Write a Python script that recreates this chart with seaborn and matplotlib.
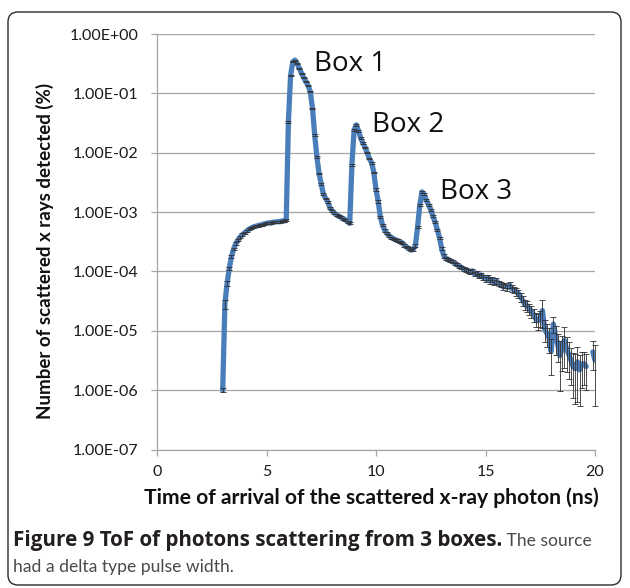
import numpy as np
import pandas as pd
import matplotlib
matplotlib.use("Agg")
import matplotlib.pyplot as plt
from matplotlib.patches import FancyBboxPatch
from matplotlib.ticker import FixedLocator, FuncFormatter, NullLocator
import seaborn as sns

# Arrival-time bins (ns)
arrival_ns = [
    3.0, 3.1, 3.2, 3.3, 3.4, 3.5, 3.6, 3.7, 3.8, 3.9,
    4.0, 4.1, 4.2, 4.3, 4.4, 4.5, 4.6, 4.7, 4.8, 4.9,
    5.0, 5.1, 5.2, 5.3, 5.4, 5.5, 5.6, 5.7, 5.8, 5.9,
    6.0, 6.1, 6.2, 6.3, 6.4, 6.5, 6.6, 6.7, 6.8, 6.9,
    7.0, 7.1, 7.2, 7.3, 7.4, 7.5, 7.6, 7.7, 7.8, 7.9,
    8.0, 8.1, 8.2, 8.3, 8.4, 8.5, 8.6, 8.7, 8.8, 8.9,
    9.0, 9.1, 9.2, 9.3, 9.4, 9.5, 9.6, 9.7, 9.8, 9.9,
    10.0, 10.1, 10.2, 10.3, 10.4, 10.5, 10.6, 10.7, 10.8, 10.9,
    11.0, 11.1, 11.2, 11.3, 11.4, 11.5, 11.6, 11.7, 11.8, 11.9,
    12.0, 12.1, 12.2, 12.3, 12.4, 12.5, 12.6, 12.7, 12.8, 12.9,
    13.0, 13.1, 13.2, 13.3, 13.4, 13.5, 13.6, 13.7, 13.8, 13.9,
    14.0, 14.1, 14.2, 14.3, 14.4, 14.5, 14.6, 14.7, 14.8, 14.9,
    15.0, 15.1, 15.2, 15.3, 15.4, 15.5, 15.6, 15.7, 15.8, 15.9,
    16.0, 16.1, 16.2, 16.3, 16.4, 16.5, 16.6, 16.7, 16.8, 16.9,
    17.0, 17.1, 17.2, 17.3, 17.4, 17.5, 17.6, 17.7, 17.8, 17.9,
    18.0, 18.1, 18.2, 18.3, 18.4, 18.5, 18.6, 18.7, 18.8, 18.9,
    19.0, 19.1, 19.2, 19.3, 19.4, 19.5, 19.6, 19.7, 19.8, 19.9,
    20.0,
]

# Scattered x rays detected (%) per bin; empty bins are nan
detected_pct = [
    1.0e-6, 2.8e-5, 6.3e-5, 1.12e-4, 1.78e-4, 2.40e-4, 2.95e-4, 3.39e-4, 3.80e-4, 4.17e-4,
    4.47e-4, 4.79e-4, 5.13e-4, 5.37e-4, 5.62e-4, 5.75e-4, 5.89e-4, 6.03e-4, 6.17e-4, 6.31e-4,
    6.46e-4, 6.61e-4, 6.50e-4, 6.76e-4, 6.80e-4, 6.92e-4, 6.85e-4, 7.08e-4, 7.10e-4, 7.24e-4,
    3.31e-2, 2.00e-1, 3.39e-1, 3.63e-1, 3.16e-1, 2.63e-1, 2.19e-1, 1.82e-1, 1.58e-1, 1.35e-1,
    1.07e-1, 5.62e-2, 2.00e-2, 8.51e-3, 4.47e-3, 2.95e-3, 2.00e-3, 1.70e-3, 1.48e-3, 1.17e-3,
    1.05e-3, 9.55e-4, 8.91e-4, 8.51e-4, 8.13e-4, 7.76e-4, 7.41e-4, 6.92e-4, 6.46e-4, 6.31e-3,
    2.40e-2, 2.95e-2, 2.34e-2, 1.78e-2, 1.45e-2, 1.23e-2, 1.00e-2, 7.94e-3, 6.76e-3, 4.68e-3,
    2.40e-3, 1.51e-3, 8.32e-4, 6.03e-4, 4.90e-4, 4.37e-4, 3.98e-4, 3.72e-4, 3.55e-4, 3.39e-4,
    3.31e-4, 3.16e-4, 3.02e-4, 2.75e-4, 2.57e-4, 2.45e-4, 2.29e-4, 2.34e-4, 2.75e-4, 5.62e-4,
    1.32e-3, 2.19e-3, 2.00e-3, 1.58e-3, 1.32e-3, 1.10e-3, 8.51e-4, 6.76e-4, 5.01e-4, 3.72e-4,
    2.40e-4, 1.82e-4, 1.66e-4, 1.58e-4, 1.51e-4, 1.45e-4, 1.38e-4, 1.29e-4, 1.23e-4, 1.17e-4,
    1.10e-4, 1.07e-4, 1.02e-4, 9.77e-5, 1.02e-4, 9.12e-5, 9.33e-5, 8.32e-5, 8.71e-5, 7.94e-5,
    7.41e-5, 7.94e-5, 6.92e-5, 7.24e-5, 6.46e-5, 6.92e-5, 6.31e-5, 6.03e-5, 5.50e-5, 5.75e-5,
    5.37e-5, 5.89e-5, 5.13e-5, 4.90e-5, 4.57e-5, 4.27e-5, 3.72e-5, 3.24e-5, 2.75e-5, 2.63e-5,
    2.34e-5, 2.14e-5, 1.86e-5, 1.58e-5, 1.48e-5, 1.66e-5, 2.19e-5, 1.07e-5, 9.1e-6, 7.6e-6,
    4.5e-6, 1.3e-5, 7.9e-6, 6.0e-6, 3.8e-6, 5.2e-6, 6.9e-6, 5.0e-6, 4.0e-6, 3.2e-6,
    2.5e-6, 2.3e-6, 3.0e-6, 2.2e-6, 2.75e-6, 2.8e-6, 2.5e-6, np.nan, np.nan, 4.4e-6,
    3.2e-6,
]

# Relative statistical uncertainty of each bin
rel_uncertainty = [
    0.08, 0.17, 0.09, 0.07, 0.05, 0.05, 0.05, 0.05, 0.05, 0.05,
    0.04, 0.04, 0.04, 0.04, 0.04, 0.04, 0.04, 0.04, 0.04, 0.04,
    0.04, 0.04, 0.04, 0.04, 0.04, 0.04, 0.04, 0.04, 0.04, 0.04,
    0.04, 0.03, 0.02, 0.02, 0.02, 0.02, 0.02, 0.02, 0.02, 0.02,
    0.02, 0.02, 0.03, 0.03, 0.03, 0.03, 0.03, 0.03, 0.03, 0.03,
    0.04, 0.04, 0.04, 0.04, 0.04, 0.04, 0.04, 0.04, 0.04, 0.04,
    0.03, 0.03, 0.03, 0.03, 0.03, 0.03, 0.03, 0.03, 0.03, 0.03,
    0.04, 0.04, 0.04, 0.04, 0.04, 0.04, 0.04, 0.04, 0.04, 0.04,
    0.05, 0.05, 0.05, 0.05, 0.05, 0.05, 0.05, 0.05, 0.05, 0.05,
    0.04, 0.04, 0.04, 0.04, 0.04, 0.04, 0.04, 0.04, 0.04, 0.04,
    0.06, 0.06, 0.06, 0.06, 0.06, 0.06, 0.06, 0.06, 0.06, 0.06,
    0.08, 0.08, 0.08, 0.08, 0.08, 0.08, 0.08, 0.08, 0.08, 0.08,
    0.10, 0.10, 0.10, 0.10, 0.10, 0.10, 0.10, 0.10, 0.10, 0.10,
    0.12, 0.12, 0.13, 0.13, 0.14, 0.15, 0.17, 0.18, 0.20, 0.20,
    0.22, 0.24, 0.25, 0.27, 0.30, 0.30, 0.50, 0.40, 0.42, 0.45,
    0.60, 0.30, 0.50, 0.50, 0.75, 0.60, 0.66, 0.60, 0.62, 0.62,
    0.70, 0.75, 0.79, 0.75, 0.60, 0.57, 0.60, np.nan, np.nan, 0.50,
    0.83,
]

box_names = ["Box 1", "Box 2", "Box 3"]
box_peak_ns = [6.3, 9.1, 12.1]

y_ticks = [1e-7, 1e-6, 1e-5, 1e-4, 1e-3, 1e-2, 1e-1, 1e0]
x_ticks = [0, 5, 10, 15, 20]

LINE_BLUE = "#4A7EBB"
GRID_GREY = "#A6A6A6"

sns.set_style("white")
plt.rcParams["font.family"] = ["Lato", "DejaVu Sans"]

df = pd.DataFrame({"t": arrival_ns, "pct": detected_pct, "rel": rel_uncertainty})
df["segment"] = df["pct"].isna().cumsum()
df = df.dropna().reset_index(drop=True)
df["err"] = df["pct"] * df["rel"]

W, H = 630, 588
fig = plt.figure(figsize=(W / 100, H / 100), dpi=100)
ax = fig.add_axes([157 / W, 1 - 449.5 / H, (595 - 157) / W, (449.5 - 34) / H])

sns.lineplot(data=df, x="t", y="pct", units="segment", estimator=None,
             color=LINE_BLUE, lw=3.8, ax=ax, zorder=2, legend=False)
eb = ax.errorbar(df["t"], df["pct"], yerr=df["err"], fmt="none", ecolor="#333333",
                 elinewidth=0.62, capsize=2.0, capthick=0.62, zorder=3)
for art in eb.lines[1] + eb.lines[2]:
    art.set_clip_on(False)

ax.set_yscale("log")
ax.set_ylim(1e-7, 1)
ax.set_xlim(0, 20)
ax.yaxis.set_major_locator(FixedLocator(y_ticks))
ax.yaxis.set_minor_locator(NullLocator())
ax.yaxis.set_major_formatter(FuncFormatter(lambda v, _: f"{v:.2E}"))
ax.xaxis.set_major_locator(FixedLocator(x_ticks))
ax.xaxis.set_major_formatter(FuncFormatter(lambda v, _: f"{v:g}"))

ax.grid(axis="y", color=GRID_GREY, lw=0.9)
ax.grid(axis="x", visible=False)
ax.set_axisbelow(True)
for side in ("top", "right"):
    ax.spines[side].set_visible(False)
for side in ("left", "bottom"):
    ax.spines[side].set_color(GRID_GREY)
    ax.spines[side].set_linewidth(0.9)
ax.tick_params(axis="y", direction="out", length=4.5, width=0.9, color=GRID_GREY,
               pad=9, labelsize=11.5, labelcolor="#1a1a1a", left=True)
ax.tick_params(axis="x", direction="out", length=4, width=0.9, color=GRID_GREY,
               pad=7, labelsize=11.5, labelcolor="#1a1a1a", bottom=True)
ax.set_xlabel("")
ax.set_ylabel("")

# Peak labels
offsets = [(14, -3), (11, 0), (13, 0)]
for name, tp, off in zip(box_names, box_peak_ns, offsets):
    vp = df.loc[(df["t"] - tp).abs().idxmin(), "pct"]
    ax.annotate(name, xy=(tp, vp), xytext=off, textcoords="offset points",
                ha="left", va="center", fontsize=20, family="Open Sans",
                color="#111111")

fig.text(45 / W, 1 - 251 / H, "Number of scattered x rays detected (%)",
         rotation=90, ha="center", va="center", fontsize=13.5, fontweight="bold",
         color="#111111")
fig.text(371 / W, 1 - 498 / H, "Time of arrival of the scattered x-ray photon (ns)",
         ha="center", va="center", fontsize=15.2, fontweight="bold", color="#111111")

# Caption: bold title followed by a plain sentence on the same baseline
base1 = 1 - 546 / H
cap1 = fig.text(13 / W, base1, "Figure 9 ToF of photons scattering from 3 boxes.",
                ha="left", va="baseline", fontsize=14.9, fontweight="bold",
                family=["Open Sans", "DejaVu Sans"], color="#231f20")
fig.canvas.draw()
x_end = cap1.get_window_extent().x1 / W
fig.text(x_end, base1, " The source", ha="left", va="baseline",
         fontsize=12.6, color="#4a4a4a")
fig.text(13 / W, 1 - 572 / H, "had a delta type pulse width.",
         ha="left", va="baseline", fontsize=12.6, color="#4a4a4a")

frame = FancyBboxPatch((0.08, 0.03), 6.13, 5.73,
                       boxstyle="round,pad=0,rounding_size=0.1",
                       transform=fig.dpi_scale_trans, fill=False,
                       ec="#2b2b2b", lw=1.0)
fig.patches.append(frame)

fig.savefig("out.png", dpi=100)
